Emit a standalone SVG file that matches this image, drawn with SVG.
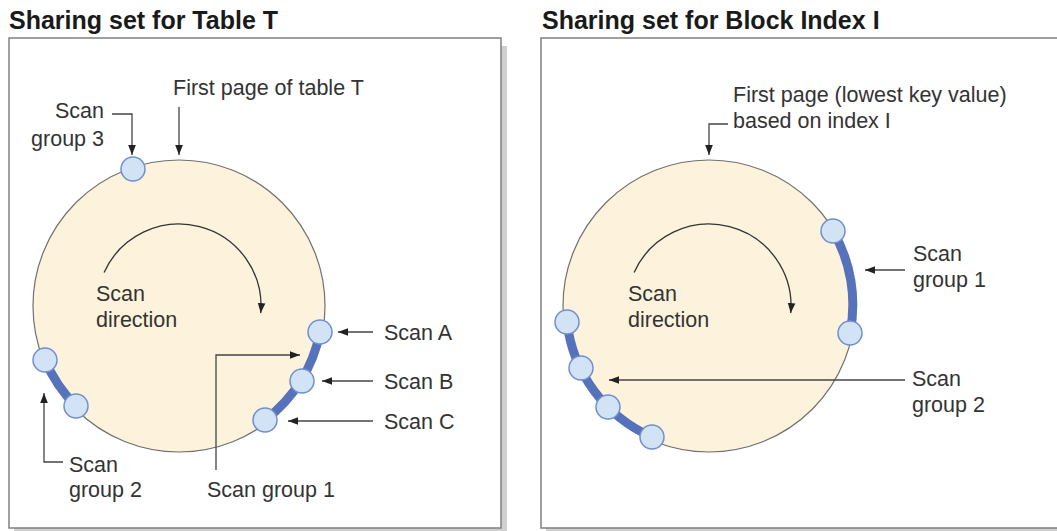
<svg xmlns="http://www.w3.org/2000/svg" width="1057" height="531" viewBox="0 0 1057 531">
<style>
.title{font-family:"Liberation Sans",Arial,sans-serif;font-weight:bold;font-size:25px;fill:#1a1a1a}
.lbl{font-family:"Liberation Sans",Arial,sans-serif;font-size:21.5px;fill:#333}
.box{fill:#fff;stroke:#808080;stroke-width:1.5}
.shadow{fill:#cfcfcf}
.big{fill:#fdf3dc;stroke:#707070;stroke-width:1.2}
.dir{fill:none;stroke:#333;stroke-width:1.3}
.band{fill:none;stroke:#5672ba;stroke-width:9;stroke-linecap:round}
.pt{fill:#d3e3f6;stroke:#6f8fd0;stroke-width:1.5}
.con{fill:none;stroke:#444;stroke-width:1.3}
</style>
<defs>
<marker id="ah" markerUnits="userSpaceOnUse" markerWidth="10" markerHeight="10" viewBox="0 0 10 10" refX="10" refY="5" orient="auto">
<path d="M0,1.2 L10,5 L0,8.8 Z" fill="#222"/>
</marker>
</defs>

<g id="panel-table">
<rect class="shadow" x="14" y="46" width="493" height="490"/>
<rect class="box" x="9" y="38" width="492" height="490"/>
<text class="title" x="9" y="29">Sharing set for Table T</text>
</g>
<g id="panel-index">
<rect class="shadow" x="546" y="46" width="520" height="490"/>
<rect class="box" x="541" y="38" width="530" height="490"/>
<text class="title" x="542" y="29">Sharing set for Block Index I</text>
</g>

<g id="table-circle">
<circle class="big" cx="179" cy="306" r="146"/>
<path class="dir" d="M104.1,272.6 A82,82 0 0 1 260.7,313.1" marker-end="url(#ah)"/>
<text class="lbl" x="96" y="301">Scan</text>
<text class="lbl" x="96" y="327">direction</text>
</g>
<g id="table-group1">
<path class="band" d="M320,332 A144,144 0 0 1 265,420"/>
<circle class="pt" cx="320" cy="332" r="12"/>
<circle class="pt" cx="302" cy="381" r="12"/>
<circle class="pt" cx="265" cy="420" r="12"/>
</g>
<g id="table-group2">
<path class="band" d="M45,360 A144,144 0 0 0 76,406"/>
<circle class="pt" cx="45" cy="360" r="12"/>
<circle class="pt" cx="76" cy="406" r="12"/>
</g>
<g id="table-group3">
<circle class="pt" cx="133" cy="169" r="12"/>
</g>

<g id="table-labels">
<text class="lbl" x="173" y="95">First page of table T</text>
<text class="lbl" x="104" y="118" text-anchor="end">Scan</text>
<text class="lbl" x="104" y="146" text-anchor="end">group 3</text>
<text class="lbl" x="384" y="340">Scan A</text>
<text class="lbl" x="384" y="389">Scan B</text>
<text class="lbl" x="384" y="429">Scan C</text>
<text class="lbl" x="207" y="497">Scan group 1</text>
<text class="lbl" x="69" y="472">Scan</text>
<text class="lbl" x="69" y="497">group 2</text>
</g>

<g id="index-circle">
<circle class="big" cx="709" cy="306" r="146"/>
<path class="dir" d="M634.1,272.6 A82,82 0 0 1 790.7,313.1" marker-end="url(#ah)"/>
<text class="lbl" x="628" y="301">Scan</text>
<text class="lbl" x="628" y="327">direction</text>
</g>
<g id="index-group1">
<path class="band" d="M833,231 A146,146 0 0 1 850,333"/>
<circle class="pt" cx="833" cy="231" r="12"/>
<circle class="pt" cx="850" cy="333" r="12"/>
</g>
<g id="index-group2">
<path class="band" d="M567,322 A143,143 0 0 0 652,437"/>
<circle class="pt" cx="567" cy="322" r="12"/>
<circle class="pt" cx="581" cy="368" r="12"/>
<circle class="pt" cx="608" cy="407" r="12"/>
<circle class="pt" cx="652" cy="437" r="12"/>
</g>
<g id="index-labels">
<text class="lbl" x="733" y="102">First page (lowest key value)</text>
<text class="lbl" x="733" y="128">based on index I</text>
<text class="lbl" x="913" y="261">Scan</text>
<text class="lbl" x="913" y="287">group 1</text>
<text class="lbl" x="912" y="386">Scan</text>
<text class="lbl" x="912" y="412">group 2</text>
</g>

<g id="connectors">
<path class="con" d="M179,107 V155" marker-end="url(#ah)"/>
<path class="con" d="M112,114 H132 V155" marker-end="url(#ah)"/>
<path class="con" d="M373,332 H338" marker-end="url(#ah)"/>
<path class="con" d="M373,381 H322" marker-end="url(#ah)"/>
<path class="con" d="M373,421 H288" marker-end="url(#ah)"/>
<path class="con" d="M216,470 V355 H300" marker-end="url(#ah)"/>
<path class="con" d="M63,462 H44 V393" marker-end="url(#ah)"/>
<path class="con" d="M728,124 H709 V155" marker-end="url(#ah)"/>
<path class="con" d="M905,270 H865" marker-end="url(#ah)"/>
<path class="con" d="M905,380 H609" marker-end="url(#ah)"/>
</g>
</svg>
